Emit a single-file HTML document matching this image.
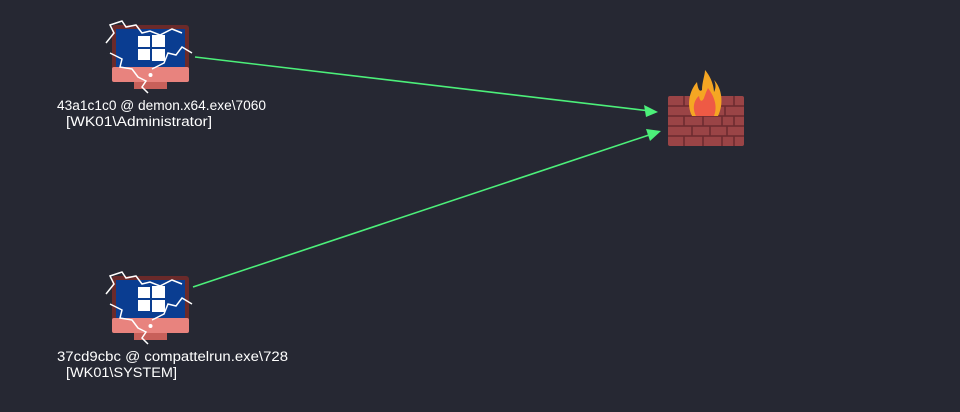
<!DOCTYPE html>
<html><head><style>
html,body{margin:0;padding:0;background:#262833;width:960px;height:412px;overflow:hidden}
svg{position:absolute;left:0;top:0}
text{font-family:"Liberation Sans",sans-serif;font-size:13.5px;fill:#fff}
</style></head><body>
<svg width="960" height="412" viewBox="0 0 960 412">
<defs>
<g id="pc">
<rect x="0" y="0" width="77" height="52" rx="3" fill="#6b2a2a"/>
<rect x="4" y="4" width="69" height="38" fill="#0a3d91"/>
<rect x="0" y="42" width="77" height="15" rx="2" fill="#e8837e"/>
<rect x="22" y="57" width="33" height="7" fill="#c8605a"/>
<circle cx="38.5" cy="50" r="2" fill="#fff"/>
<rect x="26" y="11" width="12" height="11" fill="#fff"/>
<rect x="40" y="10" width="13" height="12" fill="#fff"/>
<rect x="26" y="24" width="12" height="11" fill="#fff"/>
<rect x="40" y="24" width="13" height="12" fill="#fff"/>
<polyline points="-6,18 2,8 -2,0 10,-4 14,2 24,0 30,8 38,6 48,10 60,4 70,8" fill="none" stroke="#fff" stroke-width="1.5"/>
<polyline points="-2,28 10,34 8,42 20,44 26,52 34,56 30,62 36,68" fill="none" stroke="#fff" stroke-width="1.5"/>
<polyline points="40,44 52,38 56,28 64,30 70,22 80,28" fill="none" stroke="#fff" stroke-width="1.5"/>
</g>
</defs>
<line x1="195" y1="57" x2="650" y2="111" stroke="#4cf07a" stroke-width="1.6"/>
<polygon points="658,112 644,105 646,117" fill="#4cf07a"/>
<line x1="193" y1="287" x2="652" y2="134" stroke="#4cf07a" stroke-width="1.6"/>
<polygon points="661,131 646,129 650,141" fill="#4cf07a"/>
<use href="#pc" x="112" y="25"/>
<use href="#pc" x="112" y="276"/>
<g>
<rect x="668" y="96" width="76" height="50" rx="2" fill="#9a4446"/>
<g stroke="#6b2a2e" stroke-width="1.5">
<line x1="668" y1="106" x2="744" y2="106"/><line x1="668" y1="116" x2="744" y2="116"/>
<line x1="668" y1="126" x2="744" y2="126"/><line x1="668" y1="136" x2="744" y2="136"/>
<line x1="684" y1="96" x2="684" y2="106"/><line x1="734" y1="96" x2="734" y2="106"/>
<line x1="692" y1="106" x2="692" y2="116"/><line x1="725" y1="106" x2="725" y2="116"/>
<line x1="684" y1="116" x2="684" y2="126"/><line x1="703" y1="116" x2="703" y2="126"/><line x1="722" y1="116" x2="722" y2="126"/><line x1="734" y1="116" x2="734" y2="126"/>
<line x1="692" y1="126" x2="692" y2="136"/><line x1="710" y1="126" x2="710" y2="136"/><line x1="727" y1="126" x2="727" y2="136"/>
<line x1="684" y1="136" x2="684" y2="146"/><line x1="703" y1="136" x2="703" y2="146"/><line x1="722" y1="136" x2="722" y2="146"/><line x1="734" y1="136" x2="734" y2="146"/>
</g>
<path d="M692,116 C686,104 690,90 697,82 C698,90 700,92 702,90 C702,82 705,75 705,70 C712,78 714,88 714,92 C716,88 716,84 714,80 C722,88 724,104 718,116 Z" fill="#f5a623"/>
<path d="M696,116 C692,108 694,100 699,96 C700,102 702,102 704,98 C706,92 707,90 708,88 C714,96 718,106 714,116 Z" fill="#ee5a45"/>
</g>
<text x="57" y="110" textLength="209" lengthAdjust="spacingAndGlyphs">43a1c1c0 @ demon.x64.exe\7060</text>
<text x="66" y="126" textLength="146" lengthAdjust="spacingAndGlyphs">[WK01\Administrator]</text>
<text x="57" y="361" textLength="231" lengthAdjust="spacingAndGlyphs">37cd9cbc @ compattelrun.exe\728</text>
<text x="66" y="377" textLength="111" lengthAdjust="spacingAndGlyphs">[WK01\SYSTEM]</text>
</svg>
</body></html>
